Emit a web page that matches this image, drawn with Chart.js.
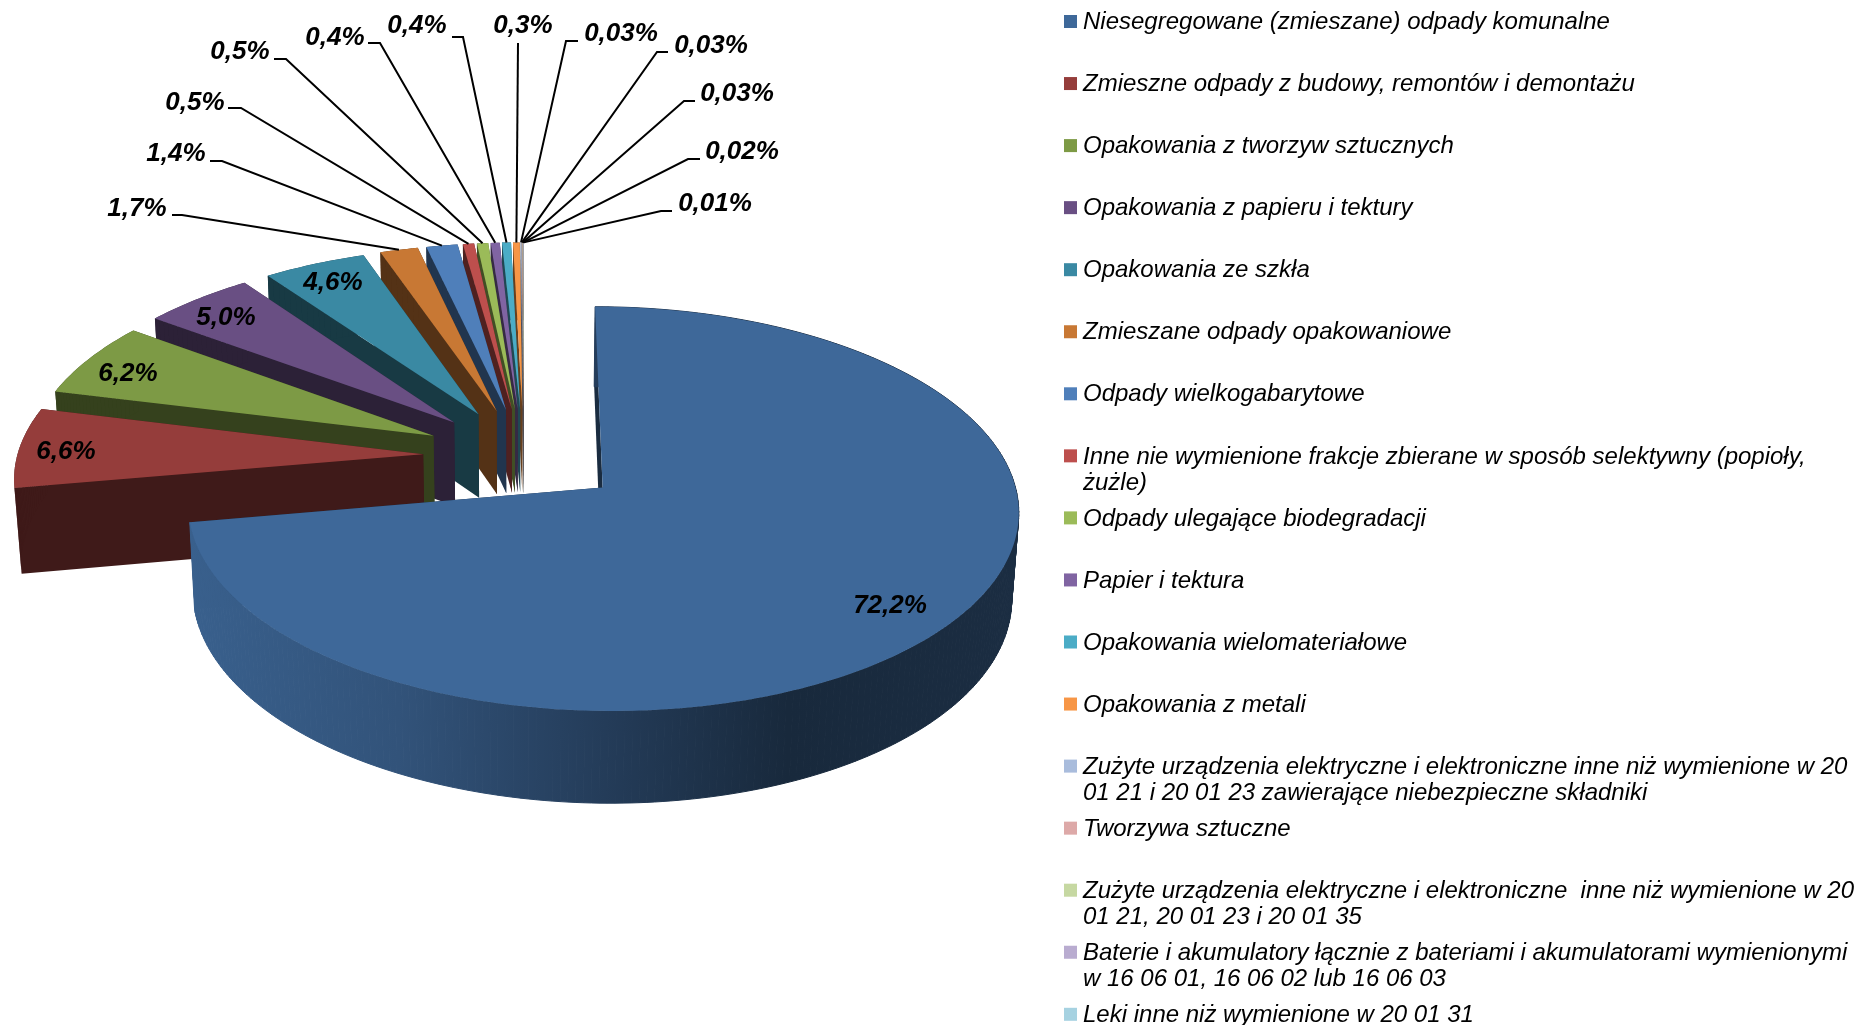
<!DOCTYPE html>
<html lang="pl">
<head>
<meta charset="utf-8">
<title>Odpady</title>
<script src="https://cdn.jsdelivr.net/npm/chart.js@4"></script>
<style>
  html, body { margin: 0; padding: 0; background: #fff; overflow: hidden; }
  #wrap { position: relative; width: 1856px; height: 1025px; }
</style>
</head>
<body>
<div id="wrap"><canvas id="pieChart"></canvas></div>
<script>
const categories = [
  'Niesegregowane (zmieszane) odpady komunalne',
  'Zmieszne odpady z budowy, remontów i demontażu',
  'Opakowania z tworzyw sztucznych',
  'Opakowania z papieru i tektury',
  'Opakowania ze szkła',
  'Zmieszane odpady opakowaniowe',
  'Odpady wielkogabarytowe',
  'Inne nie wymienione frakcje zbierane w sposób selektywny (popioły, żużle)',
  'Odpady ulegające biodegradacji',
  'Papier i tektura',
  'Opakowania wielomateriałowe',
  'Opakowania z metali',
  'Zużyte urządzenia elektryczne i elektroniczne inne niż wymienione w 20 01 21 i 20 01 23 zawierające niebezpieczne składniki',
  'Tworzywa sztuczne',
  'Zużyte urządzenia elektryczne i elektroniczne  inne niż wymienione w 20 01 21, 20 01 23 i 20 01 35',
  'Baterie i akumulatory łącznie z bateriami i akumulatorami wymienionymi w 16 06 01, 16 06 02 lub 16 06 03',
  'Leki inne niż wymienione w 20 01 31'
];
const shares = [72.2, 6.6, 6.2, 5.0, 4.6, 1.7, 1.4, 0.5, 0.5, 0.4, 0.4, 0.3, 0.03, 0.03, 0.03, 0.02, 0.01];
const shareLabels = ['72,2%', '6,6%', '6,2%', '5,0%', '4,6%', '1,7%', '1,4%', '0,5%', '0,5%', '0,4%', '0,4%', '0,3%', '0,03%', '0,03%', '0,03%', '0,02%', '0,01%'];
const colors = ['#3e6899', '#953d3b', '#7d9a45', '#694f83', '#3a89a3', '#c87834', '#4f7fba', '#bd4f4d', '#9bbb59', '#8064a2', '#4bacc6', '#f79646', '#a9bcdc', '#dda9a8', '#c6d8a2', '#b9acd0', '#a6d2e1'];

// label centre, and the elbow where the leader line leaves the label (null = no leader)
const labelSpots = [[890, 606], [66, 452], [128, 374], [226, 318], [333, 283], [137, 209], [176, 154], [195, 103], [240, 52], [335, 38], [417, 26], [523, 26], [621, 34], [711, 46], [737, 94], [742, 152], [715, 204]];
const leaderElbows = [null, null, null, null, null,
  [[172, 215], [182, 215]], [[210, 161], [222, 161]], [[228, 108], [241, 108]], [[274, 59], [286, 59]],
  [[368, 43], [380, 43]], [[452, 37], [463, 37]], [[518, 43], [518, 43]], [[578, 41], [566, 41]],
  [[668, 52], [657, 52]], [[695, 101], [684, 101]], [[700, 159], [688, 159]], [[672, 211], [661, 211]]];

// fake 3D view of the pie plane
const TILT = 0.476;
const PERSP = 0.000256;
const SINK = 0.014;
const DEPTH = 86;

function project(cx, cy, X, Y, z) {
  const s = 1 / (1 + PERSP * Y + SINK * z);
  return { x: cx + X * s, y: cy - TILT * Y * s + z * DEPTH * s };
}

function shade(hex, f) {
  const n = parseInt(hex.slice(1), 16);
  return `rgb(${Math.round((n >> 16) * f)},${Math.round(((n >> 8) & 255) * f)},${Math.round((n & 255) * f)})`;
}

function fillPoly(ctx, pts, fill) {
  ctx.beginPath();
  pts.forEach((p, i) => (i ? ctx.lineTo(p.x, p.y) : ctx.moveTo(p.x, p.y)));
  ctx.closePath();
  ctx.fillStyle = fill;
  ctx.fill();
}

function sliceGeometry(arc) {
  const { x: cx, y: cy, startAngle, endAngle, outerRadius: R } = arc;
  const mid = (startAngle + endAngle) / 2;
  const off = arc.options.offset;
  const ox = off * Math.cos(mid);
  const oy = -off * Math.sin(mid);
  const at = (a, r, z) => project(cx, cy, ox + r * Math.cos(a), oy - r * Math.sin(a), z);
  const steps = Math.max(2, Math.ceil((endAngle - startAngle) / (Math.PI / 180)));
  const angles = [];
  for (let i = 0; i <= steps; i++) angles.push(startAngle + (endAngle - startAngle) * i / steps);
  return { at, angles, R, startAngle, endAngle, mid };
}

function drawSlice(ctx, arc, index) {
  const { at, angles, R, startAngle, endAngle } = sliceGeometry(arc);
  const color = colors[index];
  const wall = shade(color, 0.42);

  fillPoly(ctx, [at(endAngle, 0, 0), at(endAngle, R, 0), at(endAngle, R, 1), at(endAngle, 0, 1)], wall);
  fillPoly(ctx, [at(startAngle, 0, 0), at(startAngle, R, 0), at(startAngle, R, 1), at(startAngle, 0, 1)], wall);

  let rimFill = wall;
  if (index === 0) {
    rimFill = ctx.createLinearGradient(190, 0, 1020, 0);
    rimFill.addColorStop(0, shade(color, 0.92));
    rimFill.addColorStop(0.25, shade(color, 0.8));
    rimFill.addColorStop(0.5, shade(color, 0.58));
    rimFill.addColorStop(0.72, shade(color, 0.39));
    rimFill.addColorStop(1, shade(color, 0.43));
  }
  // one quad per degree, a single outline would miss the silhouette at the sides
  ctx.strokeStyle = rimFill;
  ctx.lineWidth = 1;
  for (let i = 1; i < angles.length; i++) {
    fillPoly(ctx, [at(angles[i - 1], R, 0), at(angles[i], R, 0), at(angles[i], R, 1), at(angles[i - 1], R, 1)], rimFill);
    // closes the seams on the big slice, on the thin ones it would show as a line
    if (index === 0) ctx.stroke();
  }
  fillPoly(ctx, [at(startAngle, 0, 0)].concat(angles.map(a => at(a, R, 0))), color);
}

const pie3d = {
  id: 'pie3d',
  beforeDatasetsDraw(chart) {
    const ctx = chart.ctx;
    const arcs = chart.getDatasetMeta(0).data;
    ctx.save();
    // back slices first, the big front one last
    for (let i = arcs.length - 1; i >= 0; i--) drawSlice(ctx, arcs[i], i);

    ctx.strokeStyle = '#000';
    ctx.lineWidth = 2;
    arcs.forEach((arc, i) => {
      if (!leaderElbows[i]) return;
      const { at, R, mid } = sliceGeometry(arc);
      const end = at(mid, R, 0);
      const [a, b] = leaderElbows[i];
      ctx.beginPath();
      ctx.moveTo(a[0], a[1]);
      ctx.lineTo(b[0], b[1]);
      ctx.lineTo(end.x, end.y);
      ctx.stroke();
    });

    ctx.fillStyle = '#000';
    ctx.font = 'italic bold 26px "Liberation Sans", Arial, sans-serif';
    ctx.textAlign = 'center';
    ctx.textBaseline = 'middle';
    shareLabels.forEach((txt, i) => ctx.fillText(txt, labelSpots[i][0], labelSpots[i][1]));
    ctx.restore();
    return false;
  }
};

function wrapLine(ctx, text, maxWidth) {
  const lines = [];
  let line = '';
  text.split(' ').forEach(word => {
    const next = line === '' && !lines.length ? word : line + ' ' + word;
    if (ctx.measureText(next).width > maxWidth && line) {
      lines.push(line);
      line = word;
    } else {
      line = next;
    }
  });
  lines.push(line);
  return lines;
}

// the built-in legend would break into a second column, the rows here run off the bottom
const sideLegend = {
  id: 'sideLegend',
  afterDraw(chart) {
    const ctx = chart.ctx;
    ctx.save();
    ctx.font = 'italic 24px "Liberation Sans", Arial, sans-serif';
    ctx.textAlign = 'left';
    ctx.textBaseline = 'middle';
    chart.data.labels.forEach((label, i) => {
      const y = 22.5 + i * 62.05;
      ctx.fillStyle = chart.data.datasets[0].backgroundColor[i];
      ctx.fillRect(1064, y - 7.5, 13, 13);
      ctx.fillStyle = '#000';
      wrapLine(ctx, label, 772).forEach((line, n) => ctx.fillText(line, 1083, y + n * 26.5));
    });
    ctx.restore();
  }
};

new Chart(document.getElementById('pieChart'), {
  type: 'pie',
  data: {
    labels: categories,
    datasets: [{
      data: shares,
      backgroundColor: colors,
      borderWidth: 0,
      offset: 101,
      radius: 406
    }]
  },
  plugins: [pie3d, sideLegend],
  options: {
    responsive: true,
    maintainAspectRatio: false,
    animation: false,
    layout: { padding: { left: 0, right: 808, top: 0, bottom: 113 } },
    plugins: {
      legend: { display: false },
      tooltip: { enabled: false }
    }
  }
});
</script>
</body>
</html>
